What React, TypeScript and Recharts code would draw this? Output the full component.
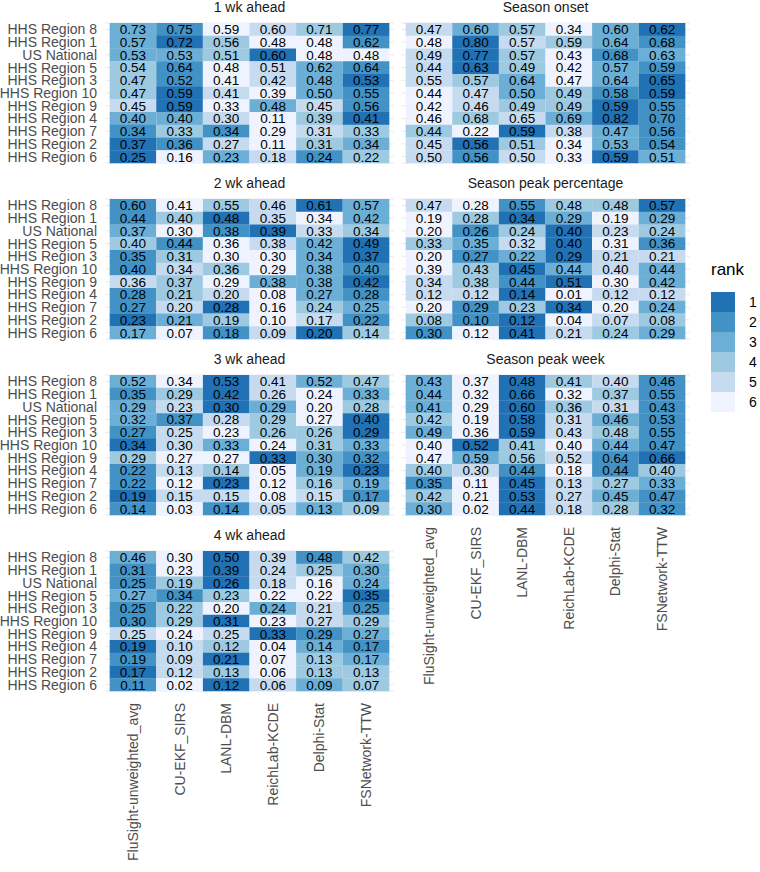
import React from 'react';
import { BarChart, Bar, XAxis, YAxis, CartesianGrid, Cell, LabelList } from 'recharts';

const MODELS = ['FluSight-unweighted_avg', 'CU-EKF_SIRS', 'LANL-DBM', 'ReichLab-KCDE', 'Delphi-Stat', 'FSNetwork-TTW'];
const REGIONS = ['HHS Region 8', 'HHS Region 1', 'US National', 'HHS Region 5', 'HHS Region 3', 'HHS Region 10', 'HHS Region 9', 'HHS Region 4', 'HHS Region 7', 'HHS Region 2', 'HHS Region 6'];

const WK1 = [
  [0.73, 0.75, 0.59, 0.60, 0.71, 0.77],
  [0.57, 0.72, 0.56, 0.48, 0.48, 0.62],
  [0.53, 0.53, 0.51, 0.60, 0.48, 0.48],
  [0.54, 0.64, 0.48, 0.51, 0.62, 0.64],
  [0.47, 0.52, 0.41, 0.42, 0.48, 0.53],
  [0.47, 0.59, 0.41, 0.39, 0.50, 0.55],
  [0.45, 0.59, 0.33, 0.48, 0.45, 0.56],
  [0.40, 0.40, 0.30, 0.11, 0.39, 0.41],
  [0.34, 0.33, 0.34, 0.29, 0.31, 0.33],
  [0.37, 0.36, 0.27, 0.11, 0.31, 0.34],
  [0.25, 0.16, 0.23, 0.18, 0.24, 0.22],
];
const WK2 = [
  [0.60, 0.41, 0.55, 0.46, 0.61, 0.57],
  [0.44, 0.40, 0.48, 0.35, 0.34, 0.42],
  [0.37, 0.30, 0.38, 0.39, 0.33, 0.34],
  [0.40, 0.44, 0.36, 0.38, 0.42, 0.49],
  [0.35, 0.31, 0.30, 0.30, 0.34, 0.37],
  [0.40, 0.34, 0.36, 0.29, 0.38, 0.40],
  [0.36, 0.37, 0.29, 0.38, 0.38, 0.42],
  [0.28, 0.21, 0.20, 0.08, 0.27, 0.28],
  [0.27, 0.20, 0.28, 0.16, 0.24, 0.25],
  [0.23, 0.21, 0.19, 0.10, 0.17, 0.22],
  [0.17, 0.07, 0.18, 0.09, 0.20, 0.14],
];
const WK3 = [
  [0.52, 0.34, 0.53, 0.41, 0.52, 0.47],
  [0.35, 0.29, 0.42, 0.26, 0.24, 0.33],
  [0.29, 0.23, 0.30, 0.29, 0.20, 0.28],
  [0.32, 0.37, 0.28, 0.29, 0.27, 0.40],
  [0.27, 0.25, 0.23, 0.26, 0.26, 0.29],
  [0.34, 0.30, 0.33, 0.24, 0.31, 0.33],
  [0.29, 0.27, 0.27, 0.33, 0.30, 0.32],
  [0.22, 0.13, 0.14, 0.05, 0.19, 0.23],
  [0.22, 0.12, 0.23, 0.12, 0.16, 0.19],
  [0.19, 0.15, 0.15, 0.08, 0.15, 0.17],
  [0.14, 0.03, 0.14, 0.05, 0.13, 0.09],
];
const WK4 = [
  [0.46, 0.30, 0.50, 0.39, 0.48, 0.42],
  [0.31, 0.23, 0.39, 0.24, 0.25, 0.30],
  [0.25, 0.19, 0.26, 0.18, 0.16, 0.24],
  [0.27, 0.34, 0.23, 0.22, 0.22, 0.35],
  [0.25, 0.22, 0.20, 0.24, 0.21, 0.25],
  [0.30, 0.29, 0.31, 0.23, 0.27, 0.29],
  [0.25, 0.24, 0.25, 0.33, 0.29, 0.27],
  [0.19, 0.10, 0.12, 0.04, 0.14, 0.17],
  [0.19, 0.09, 0.21, 0.07, 0.13, 0.17],
  [0.17, 0.12, 0.13, 0.06, 0.13, 0.13],
  [0.11, 0.02, 0.12, 0.06, 0.09, 0.07],
];
const ONSET = [
  [0.47, 0.60, 0.57, 0.34, 0.60, 0.62],
  [0.48, 0.80, 0.57, 0.59, 0.64, 0.68],
  [0.49, 0.77, 0.57, 0.43, 0.68, 0.63],
  [0.44, 0.63, 0.49, 0.42, 0.57, 0.59],
  [0.55, 0.57, 0.64, 0.47, 0.64, 0.65],
  [0.44, 0.47, 0.50, 0.49, 0.58, 0.59],
  [0.42, 0.46, 0.49, 0.49, 0.59, 0.55],
  [0.46, 0.68, 0.65, 0.69, 0.82, 0.70],
  [0.44, 0.22, 0.59, 0.38, 0.47, 0.56],
  [0.45, 0.56, 0.51, 0.34, 0.53, 0.54],
  [0.50, 0.56, 0.50, 0.33, 0.59, 0.51],
];
const PEAK_PCT = [
  [0.47, 0.28, 0.55, 0.48, 0.48, 0.57],
  [0.19, 0.28, 0.34, 0.29, 0.19, 0.29],
  [0.20, 0.26, 0.24, 0.40, 0.23, 0.24],
  [0.33, 0.35, 0.32, 0.40, 0.31, 0.36],
  [0.20, 0.27, 0.22, 0.29, 0.21, 0.21],
  [0.39, 0.43, 0.45, 0.44, 0.40, 0.44],
  [0.34, 0.38, 0.44, 0.51, 0.30, 0.42],
  [0.12, 0.12, 0.14, 0.01, 0.12, 0.12],
  [0.20, 0.29, 0.23, 0.34, 0.20, 0.24],
  [0.08, 0.10, 0.12, 0.04, 0.07, 0.08],
  [0.30, 0.12, 0.41, 0.21, 0.24, 0.29],
];
const PEAK_WK = [
  [0.43, 0.37, 0.48, 0.41, 0.40, 0.46],
  [0.44, 0.32, 0.66, 0.32, 0.37, 0.55],
  [0.41, 0.29, 0.60, 0.36, 0.31, 0.43],
  [0.42, 0.19, 0.58, 0.31, 0.46, 0.53],
  [0.49, 0.36, 0.59, 0.43, 0.48, 0.55],
  [0.40, 0.52, 0.41, 0.40, 0.44, 0.47],
  [0.47, 0.59, 0.56, 0.52, 0.64, 0.66],
  [0.40, 0.30, 0.44, 0.18, 0.44, 0.40],
  [0.35, 0.11, 0.45, 0.13, 0.27, 0.33],
  [0.42, 0.21, 0.53, 0.27, 0.45, 0.47],
  [0.30, 0.02, 0.44, 0.18, 0.28, 0.32],
];

const RANKS = [1, 2, 3, 4, 5, 6];
const RANK_COLORS = ['#2171b5', '#4292c6', '#6baed6', '#9ecae1', '#c6dbef', '#eff3ff'];

const FONT = '"Liberation Sans", Arial, Helvetica, sans-serif';
const PLOT_W = 289;
const PLOT_H = 140;
const PAD = 3;
const Y_W = 105;
const X_H = 180;
const TICKS = [0.5, 1.5, 2.5, 3.5, 4.5, 5.5];

// rank 1 = highest score in the row, ties take the lower rank
const rankRow = (row: number[]) => row.map((v) => row.filter((w) => w >= v).length);

const buildRows = (values: number[][]) =>
  values.map((vals, i) => {
    const o: any = { region: REGIONS[i] };
    vals.forEach((v, j) => {
      o['m' + j] = 1;
      o['v' + j] = v;
    });
    return o;
  });

const ModelTick = (props: any) => {
  const { x, y, payload } = props;
  const ty = y + 4;
  return (
    <text x={x} y={ty} transform={`rotate(-90 ${x} ${ty})`} textAnchor="end" dominantBaseline="central" fontSize={14} fill="#4d4d4d" fontFamily={FONT}>
      {MODELS[Math.round(payload.value - 0.5)]}
    </text>
  );
};

function Panel({ title, values, left, top, showY, showX }: any) {
  const data = buildRows(values);
  const ranks = values.map(rankRow);
  const yW = showY ? Y_W : 0;
  return (
    <>
      <div style={{ position: 'absolute', left: left + yW, top: top - 24, width: PLOT_W, textAlign: 'center', fontSize: 14, lineHeight: '16px', color: '#1a1a1a', fontFamily: FONT }}>
        {title}
      </div>
      <div style={{ position: 'absolute', left, top: top - PAD }}>
        <BarChart
          width={yW + PLOT_W}
          height={PLOT_H + 2 * PAD + (showX ? X_H : 0)}
          data={data}
          layout="vertical"
          barCategoryGap={0}
          barGap={0}
          margin={{ top: PAD, right: 0, bottom: PAD, left: 0 }}
        >
          <CartesianGrid horizontal vertical={false} stroke="#ebebeb" />
          <XAxis type="number" domain={[-0.1, 6.1]} ticks={TICKS} interval={0} hide={!showX} height={X_H} tickLine={false} axisLine={false} tick={<ModelTick />} />
          <YAxis type="category" dataKey="region" hide={!showY} width={Y_W} tickLine={false} axisLine={false} interval={0} tick={{ fontSize: 14, fill: '#4d4d4d', fontFamily: FONT }} />
          {MODELS.map((m, j) => (
            <Bar key={m} dataKey={'m' + j} stackId="a" isAnimationActive={false}>
              {data.map((_: any, i: number) => (
                <Cell key={i} fill={RANK_COLORS[ranks[i][j] - 1]} />
              ))}
              <LabelList dataKey={'v' + j} position="center" fill="#000" fontSize={13.5} fontFamily={FONT} formatter={(v: any) => Number(v).toFixed(2)} />
            </Bar>
          ))}
        </BarChart>
      </div>
    </>
  );
}

const TOPS = [23, 199, 375, 551];

export default function App() {
  return (
    <div style={{ position: 'absolute', left: 0, top: 0, width: 760, height: 872, background: '#fff', fontFamily: FONT }}>
      <Panel title="1 wk ahead" values={WK1} left={0} top={TOPS[0]} showY />
      <Panel title="Season onset" values={ONSET} left={401} top={TOPS[0]} />
      <Panel title="2 wk ahead" values={WK2} left={0} top={TOPS[1]} showY />
      <Panel title="Season peak percentage" values={PEAK_PCT} left={401} top={TOPS[1]} />
      <Panel title="3 wk ahead" values={WK3} left={0} top={TOPS[2]} showY />
      <Panel title="Season peak week" values={PEAK_WK} left={401} top={TOPS[2]} showX />
      <Panel title="4 wk ahead" values={WK4} left={0} top={TOPS[3]} showY showX />
      <div style={{ position: 'absolute', left: 711, top: 260, fontSize: 17, color: '#000', fontFamily: FONT }}>rank</div>
      {RANKS.map((r, i) => (
        <React.Fragment key={r}>
          <div style={{ position: 'absolute', left: 711, top: 292 + i * 20, width: 24, height: 20, background: RANK_COLORS[i] }} />
          <div style={{ position: 'absolute', left: 749, top: 292 + i * 20 + 2, fontSize: 14, lineHeight: '16px', color: '#000', fontFamily: FONT }}>{r}</div>
        </React.Fragment>
      ))}
    </div>
  );
}
